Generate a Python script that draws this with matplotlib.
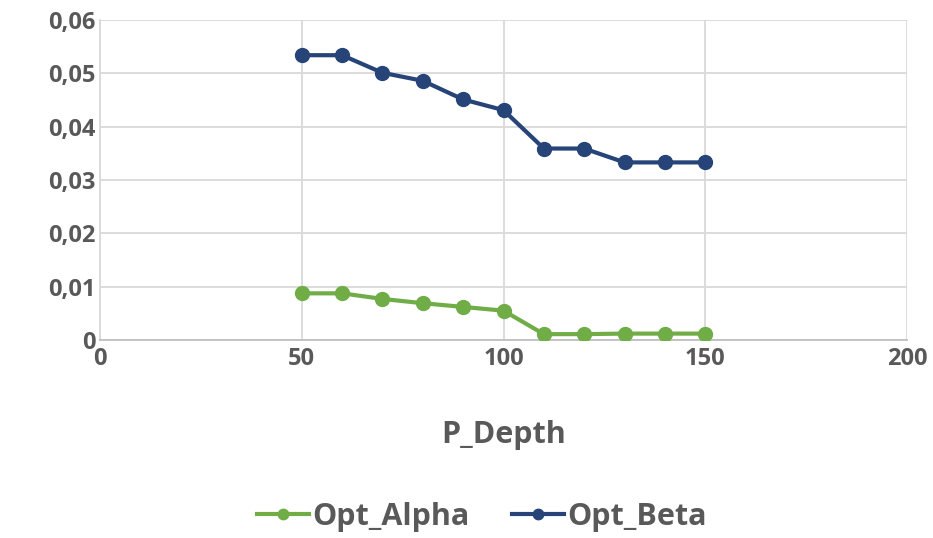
import matplotlib
matplotlib.use("Agg")
import matplotlib.pyplot as plt
from matplotlib.ticker import FuncFormatter, MultipleLocator

p_depth = [50, 60, 70, 80, 90, 100, 110, 120, 130, 140, 150]
opt_alpha = [0.00875, 0.00875, 0.0077, 0.0069, 0.0062, 0.0055, 0.0011, 0.0011, 0.0012, 0.0012, 0.0012]
opt_beta = [0.0534, 0.0534, 0.0501, 0.0486, 0.0451, 0.0431, 0.0359, 0.0359, 0.0333, 0.0333, 0.0333]

plt.rcParams['font.family'] = ['Open Sans', 'DejaVu Sans']
txt = '#595959'
grid = '#d9d9d9'

fig = plt.figure(figsize=(9.33, 5.38), dpi=100)
ax = fig.add_axes([100/933, 1-340/538, (907-100)/933, (340-20)/538])

ax.plot(p_depth, opt_alpha, color='#70ad47', lw=3, marker='o', ms=10, label='Opt_Alpha', zorder=3)
ax.plot(p_depth, opt_beta, color='#264478', lw=3, marker='o', ms=10, label='Opt_Beta', zorder=3)

ax.set_xlim(0, 200)
ax.set_ylim(0, 0.06)
ax.xaxis.set_major_locator(MultipleLocator(50))
ax.yaxis.set_major_locator(MultipleLocator(0.01))
ax.yaxis.set_major_formatter(FuncFormatter(lambda v, p: '0' if abs(v) < 1e-12 else f'{v:.2f}'.replace('.', ',')))
ax.grid(True, color=grid, lw=1.3, zorder=0)
for s in ['top', 'right']:
    ax.spines[s].set_visible(False)
ax.spines['left'].set_color(grid)
ax.spines['left'].set_linewidth(1.3)
ax.spines['bottom'].set_color('#bfbfbf')
ax.spines['bottom'].set_linewidth(1.3)
ax.tick_params(length=0, labelsize=17, labelcolor=txt)
ax.tick_params(axis='y', pad=3)
ax.tick_params(axis='x', pad=5)
for lab in ax.get_xticklabels() + ax.get_yticklabels():
    lab.set_fontweight('bold')
ax.set_xlabel('P_Depth', fontsize=22, fontweight='bold', color=txt, labelpad=35)

leg = fig.legend(loc='center', bbox_to_anchor=(482/933, 1-517/538), ncol=2, frameon=False,
                 prop={'size': 22, 'weight': 'bold'}, handlelength=1.7, columnspacing=1.4,
                 handletextpad=0.1, markerscale=0.75)
for t in leg.get_texts():
    t.set_color(txt)

fig.savefig('out.png', dpi=100)
